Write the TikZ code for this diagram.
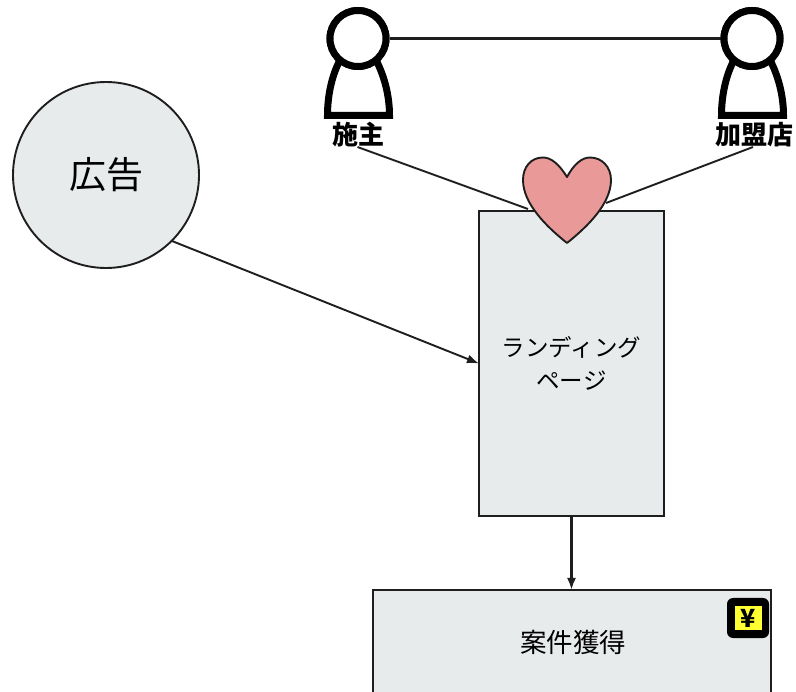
\documentclass[tikz,border=0pt]{standalone}
\usepackage{fontspec}
\setmainfont{Noto Sans CJK JP}
\usetikzlibrary{arrows.meta}
\definecolor{boxfill}{HTML}{E8EBEC}
\definecolor{ink}{HTML}{1E1E1E}
\definecolor{heartfill}{HTML}{EA9999}
\definecolor{yenfill}{HTML}{FFFF33}
\tikzset{
  x=1pt,y=-1pt,
  panel/.style={draw=ink,fill=boxfill,line width=1.9pt,inner sep=0pt,outer sep=0pt,align=center},
  link/.style={draw=ink,line width=1.9pt},
  axislink/.style={draw=ink,line width=2.4pt},
  flow/.style={link,-{Latex[length=12pt,width=9pt]}},
  headring/.style={circle,draw=black,line width=7pt,fill=white,minimum size=56pt,inner sep=0pt,outer sep=3.5pt},
  bodyline/.style={draw=black,line width=7pt,line join=miter,fill=white},
  who/.style={font=\bfseries\fontsize{26}{28}\selectfont,inner sep=0pt,text=black},
}
\begin{document}
\begin{tikzpicture}
\useasboundingbox (0,0) rectangle (796,692);
\clip (0,0) rectangle (796,692);
\fill[white] (0,0) rectangle (796,692);

% persons: bodies
\draw[bodyline] (339,62) .. controls (332,76) and (327.5,95) .. (327.5,115.5) -- (389.5,115.5) .. controls (389.5,95) and (384,76) .. (377,62);
\draw[bodyline] (733,62) .. controls (726,76) and (721.5,95) .. (721.5,115.5) -- (783.5,115.5) .. controls (783.5,95) and (778,76) .. (771,62);
\node[headring] (ownerhead) at (358,38.5) {};
\node[headring] (partnerhead) at (752,38.5) {};
\node[who] (owner) at (358,135) {施主};
\node[who] (partner) at (754,135) {加盟店};

% main shapes
\node[panel,circle,minimum size=186pt] (ad) at (106,175) {\fontsize{37}{40}\selectfont 広告};
\node[panel,minimum width=185pt,minimum height=305pt,font=\fontsize{23.5}{33}\selectfont] (lp) at (571.5,363.5) {ランディング\\ページ};
\node[panel,minimum width=398pt,minimum height=200pt] (cv) at (572,690) {};
\node[font=\fontsize{26.5}{30}\selectfont,inner sep=0pt] (cvtext) at (573,642) {案件獲得};

% connectors
\coordinate (heartL) at (528,209);
\coordinate (heartR) at (606,203);
\coordinate (lpin) at (lp.west);
\coordinate (adout) at (172,241);
\draw[axislink] (ownerhead) -- (partnerhead);
\draw[link] (357.5,147) -- (heartL);
\draw[link] (753,147) -- (heartR);
\draw[flow] (adout) -- (lpin);
\draw[axislink,-{Latex[length=12pt,width=9pt]}] (lp.south) -- (lp.south |- cv.north);

% redraw heads on top of the link ends
\node[headring] at (ownerhead) {};
\node[headring] at (partnerhead) {};

% heart
\path[draw=ink,fill=heartfill,line width=1.9pt,line join=round]
  (567,177) .. controls (559,164) and (551,157.5) .. (543,157.5)
  .. controls (531,157.5) and (523,167) .. (523,180)
  .. controls (523,204) and (547,227) .. (567,243)
  .. controls (587,227) and (611,204) .. (611,180)
  .. controls (611,167) and (602,157.5) .. (590,157.5)
  .. controls (582,157.5) and (574,164) .. (567,177) -- cycle;

% yen icon
\fill[black,rounded corners=6pt] (727,598) rectangle (769,638);
\fill[yenfill] (735,606) rectangle (762,630);
\node[font=\bfseries\fontsize{25}{26}\selectfont,inner sep=0pt,text=black] (yen) at (748,618) {¥};
\end{tikzpicture}
\end{document}
